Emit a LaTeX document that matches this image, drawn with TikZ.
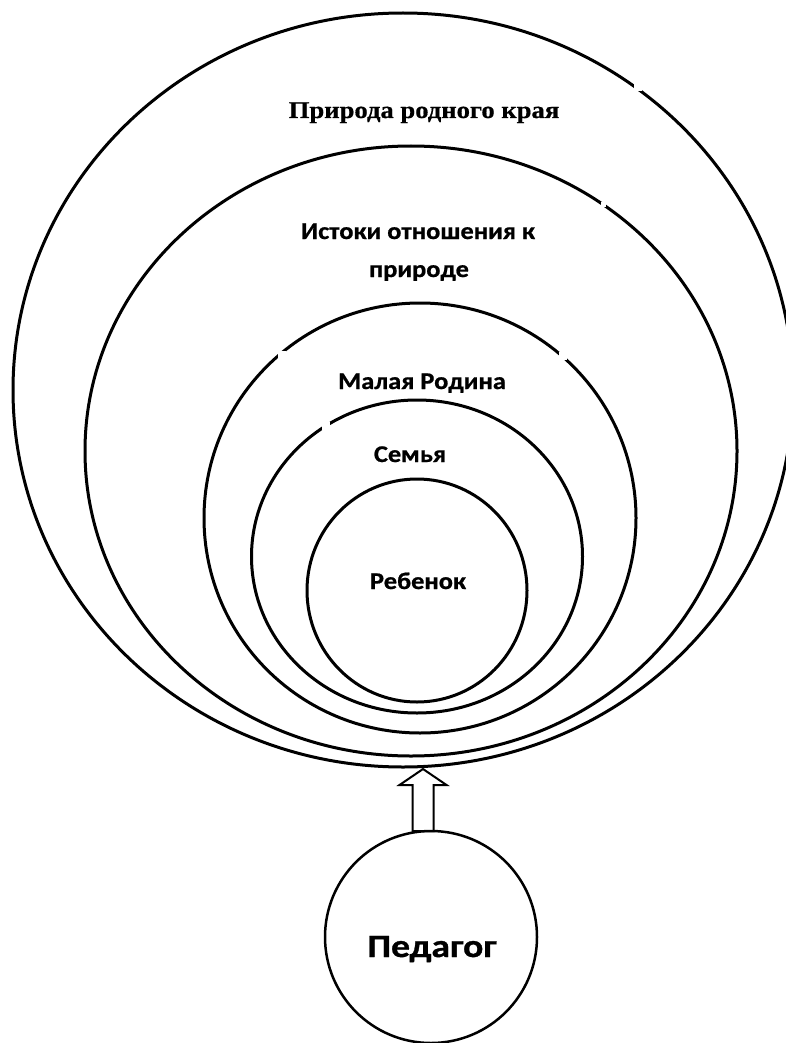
\documentclass[tikz,border=0pt]{standalone}
\usepackage{fontspec}
\setmainfont{Carlito}[FakeStretch=1.1, BoldFeatures={FakeBold=0.8}]
\newfontfamily\serifbold{Liberation Serif}[FakeStretch=1.11, BoldFeatures={FakeBold=0.6}]
\newfontfamily\pedfont{Carlito}[FakeStretch=1.16, BoldFeatures={FakeBold=1.0}]
\usetikzlibrary{shapes.geometric}
\tikzset{
  ring/.style={ellipse, draw, line width=3pt, inner sep=0pt},
  lbl/.style={font=\bfseries\fontsize{24}{29}\selectfont, anchor=base, inner sep=0pt},
  gapmask/.style={fill=white},
}
\begin{document}
\begin{tikzpicture}[x=1pt,y=-1pt]
\useasboundingbox (0,0) rectangle (785,1043);
% rings
\node[ring, minimum width=780pt, minimum height=754pt] (outer) at (403,390) {};
\node[ring, minimum width=652pt, minimum height=610pt] (second) at (411,451) {};
\node[ring, minimum width=432pt, minimum height=430pt] (third) at (420,518) {};
\node[ring, minimum width=331pt, minimum height=313pt] (fourth) at (417,556.5) {};
\node[ring, minimum width=220pt, minimum height=223pt] (fifth) at (417,590.5) {};
% small breaks in the rings
\fill[gapmask] (634,83) rectangle (642,91);
\fill[gapmask] (601,202) rectangle (606,207);
\fill[gapmask] (278,351) rectangle (286,359);
\fill[gapmask] (559,352) rectangle (567,360);
\fill[gapmask] (322,422) rectangle (330,430);
% labels
\node[lbl, font=\serifbold\bfseries\fontsize{24}{29}\selectfont] (t1) at (424,118) {Природа родного края};
\node[lbl] (t2a) at (418,239) {Истоки отношения к};
\node[lbl] (t2b) at (419,277) {природе};
\node[lbl] (t3) at (422,389) {Малая Родина};
\node[lbl] (t4) at (410,462) {Семья};
\node[lbl] (t5) at (418,589) {Ребенок};
% teacher
\node[circle, draw, line width=2.5pt, minimum size=212pt, inner sep=0pt] (ped) at (431,937) {};
\node[lbl, font=\pedfont\bfseries\fontsize{32.5}{38}\selectfont] (tp) at (432,957) {Педагог};
% outline arrow
\coordinate (tip) at (423,769);
\draw[line width=2pt, line join=miter] (tip) -- ++(-23.5,16) -- ++(13,0) -- ++(0,46) -- ++(21,0) -- ++(0,-46) -- ++(13,0) -- cycle;
\end{tikzpicture}
\end{document}
